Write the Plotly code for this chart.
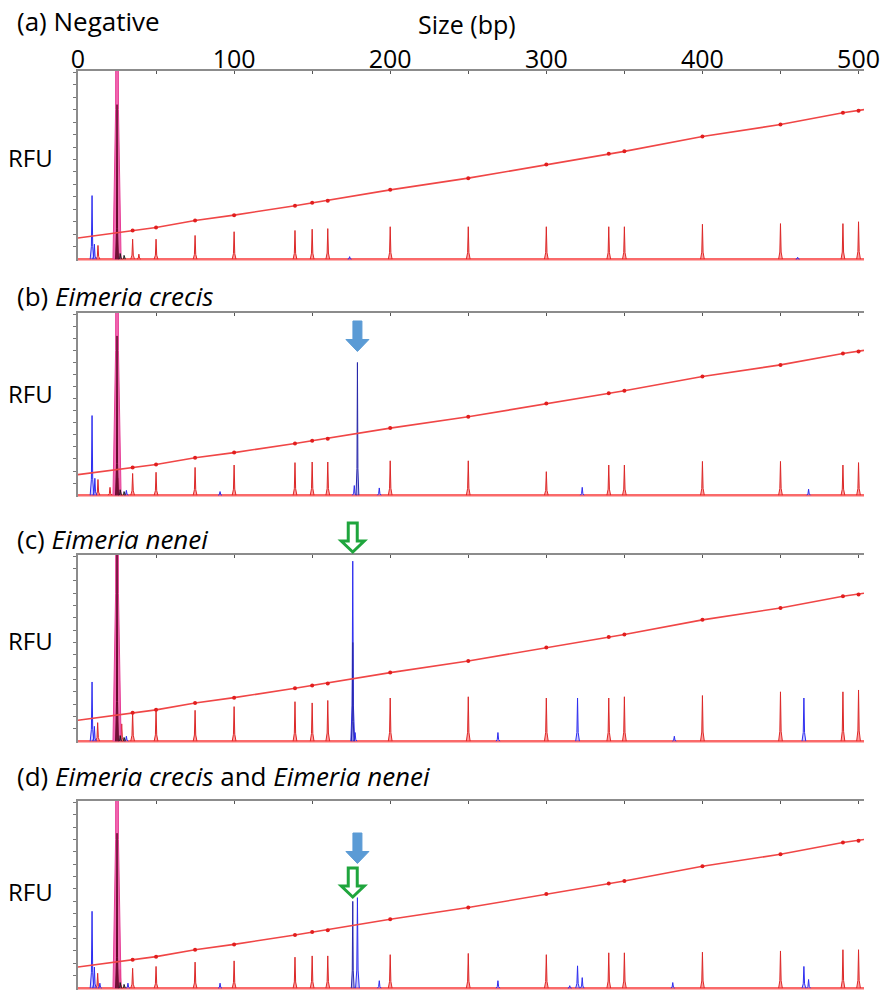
import plotly.graph_objects as go

W, H = 887, 998

# ---------------- data ----------------
STD_SIZES = [35, 50, 75, 100, 139, 150, 160, 200, 250, 300, 340, 350, 400, 450, 490, 500]
STD_HEIGHT_A = [1.6, 1.6, 1.9, 2.2, 2.3, 2.4, 2.45, 2.6, 2.6, 2.6, 2.6, 2.6, 2.8, 2.85, 2.85, 3.0]
STD_HEIGHT_B = [1.8, 1.9, 2.3, 2.5, 2.7, 2.75, 2.75, 2.85, 2.85, 1.95, 2.5, 2.5, 2.8, 2.8, 2.5, 2.7]
STD_HEIGHT_C = [2.4, 2.55, 2.5, 2.8, 3.2, 3.1, 3.3, 3.5, 3.6, 3.5, 3.5, 3.6, 3.7, 4.0, 4.0, 4.15]
STD_HEIGHT_D = [1.6, 1.75, 2.1, 2.2, 2.5, 2.6, 2.6, 2.7, 2.8, 2.7, 2.85, 2.85, 2.9, 3.0, 3.1, 3.1]

SIZING_X = [0] + STD_SIZES + [503.5]
SIZING_Y = [1.7, 2.3, 2.54, 3.1, 3.53, 4.29, 4.52, 4.68, 5.56, 6.5, 7.6, 8.45, 8.65,
            9.84, 10.8, 11.75, 11.9, 12.0]

RED_EXTRA_A = [(12.8, 1.1), (25, 1.5), (39, 0.4)]
RED_EXTRA_B = [(12.8, 1.3), (20.5, 0.65), (26, 1.4)]
RED_EXTRA_C = [(12.6, 1.5), (28, 1.4)]
RED_EXTRA_D = [(12.6, 1.2), (27, 1.5)]

BLUE_A = [(9, 5.1), (10.5, 1.2), (25, 1.5), (174, 0.2), (461, 0.15)]
BLUE_B = [(9, 6.6), (10.8, 1.4), (25, 1.4), (31, 0.4), (91, 0.3), (177, 0.8),
          (193, 0.6), (323, 0.65), (468, 0.5)]
BLUE_C = [(9, 4.8), (10.5, 1.2), (25, 1.6), (31, 0.4), (176, 14.6), (177.5, 0.7),
          (269, 0.7), (320, 3.5), (382, 0.4), (465, 3.5)]
BLUE_D = [(9, 6.2), (10.5, 1.7), (14, 0.4), (25, 1.5), (32, 0.4), (91, 0.4), (179, 7.3),
          (193, 0.6), (269, 0.6), (315, 0.2), (320, 1.8), (323, 0.85), (381, 0.45),
          (465, 1.75), (468, 0.7)]

NAVY_A = []
NAVY_B = [(179, 11.0)]
NAVY_C = [(176, 8.0)]
NAVY_D = [(176, 7.0)]

PINK_ALL = [(25, 60)]
DARK_A = [(25, 12.4)]
DARK_B = [(25, 13.2)]
DARK_C = [(25, 16.0)]
DARK_D = [(25, 12.5)]
BLACK_SMALL = [(27, 0.45), (29.5, 0.3)]

TITLES = ["(a) Negative",
          "(b) <i>Eimeria crecis</i>",
          "(c) <i>Eimeria nenei</i>",
          "(d) <i>Eimeria crecis</i> and <i>Eimeria nenei</i>"]
X_TICKS = [0, 50, 100, 150, 200, 250, 300, 350, 400, 450, 500]
X_TICKTEXT = ["0", "", "100", "", "200", "", "300", "", "400", "", "500"]

# ---------------- layout geometry ----------------
X_RANGE = [0, 503.5]
XDOM_PX = [78, 864]
PANELS_PX = [(71, 261), (313, 497), (555, 743), (801, 990)]   # top, bottom
TITLE_Y_PX = [21, 296, 539, 776]
RFU_Y_PX = [157, 393, 640, 891]
Y_RANGE = [-0.15, 15.1]
FONT = "Open Sans"

def spikes(peaks, hw):
    xs, ys = [], []
    for p, h in peaks:
        xs += [p - hw, p - 0.35 * hw, p, p + 0.35 * hw, p + hw, None]
        ys += [0, 0.2 * h, h, 0.2 * h, 0, None]
    return xs, ys

fig = go.Figure()

panels = [
    (STD_HEIGHT_A, RED_EXTRA_A, BLUE_A, NAVY_A, DARK_A),
    (STD_HEIGHT_B, RED_EXTRA_B, BLUE_B, NAVY_B, DARK_B),
    (STD_HEIGHT_C, RED_EXTRA_C, BLUE_C, NAVY_C, DARK_C),
    (STD_HEIGHT_D, RED_EXTRA_D, BLUE_D, NAVY_D, DARK_D),
]

def add_spikes(peaks, hw, line, fill, xa, ya, width=1):
    if not peaks:
        return
    xs, ys = spikes(peaks, hw)
    fig.add_trace(go.Scatter(x=xs, y=ys, mode="lines", fill="toself",
                             fillcolor=fill, line=dict(color=line, width=width),
                             xaxis=xa, yaxis=ya, hoverinfo="skip", showlegend=False))

for i, (std_h, red_x, blue, navy, dark) in enumerate(panels):
    n = i + 1
    xa, ya = f"x{n}" if n > 1 else "x", f"y{n}" if n > 1 else "y"
    # baseline
    fig.add_trace(go.Scatter(x=X_RANGE, y=[0, 0], mode="lines",
                             line=dict(color="rgba(250,90,90,0.9)", width=2.5),
                             xaxis=xa, yaxis=ya, hoverinfo="skip", showlegend=False))
    # size standard peaks
    add_spikes(list(zip(STD_SIZES, std_h)) + red_x, 1.2,
               "rgb(220,40,40)", "rgba(255,70,70,0.5)", xa, ya)
    add_spikes(blue, 1.2, "rgb(45,45,240)", "rgba(110,110,255,0.35)", xa, ya)
    add_spikes(navy, 0.9, "rgb(40,40,170)", "rgba(80,80,220,0.45)", xa, ya)
    add_spikes(PINK_ALL, 2.6, "rgb(230,60,150)", "rgba(240,80,165,0.85)", xa, ya)
    add_spikes(dark, 0.9, "rgb(95,10,40)", "rgba(110,10,45,0.9)", xa, ya)
    add_spikes(BLACK_SMALL, 0.8, "rgb(30,30,30)", "rgba(30,30,30,0.3)", xa, ya)
    # sizing curve
    fig.add_trace(go.Scatter(x=SIZING_X, y=SIZING_Y, mode="lines",
                             line=dict(color="rgb(240,70,70)", width=1.6),
                             xaxis=xa, yaxis=ya, hoverinfo="skip", showlegend=False))
    fig.add_trace(go.Scatter(x=STD_SIZES, y=SIZING_Y[1:-1], mode="markers",
                             marker=dict(color="rgb(225,30,30)", size=4),
                             xaxis=xa, yaxis=ya, hoverinfo="skip", showlegend=False))

layout = dict(width=W, height=H, margin=dict(l=0, r=0, t=0, b=0),
              paper_bgcolor="white", plot_bgcolor="white", showlegend=False,
              font=dict(family=FONT, color="black"))

for i, (top, bot) in enumerate(PANELS_PX):
    n = i + 1
    sfx = str(n) if n > 1 else ""
    layout["xaxis" + sfx] = dict(
        domain=[XDOM_PX[0] / W, XDOM_PX[1] / W], range=X_RANGE,
        anchor="y" + sfx, side="top", showline=True, linecolor="#8c8c8c", linewidth=2,
        ticks="inside", ticklen=3, tickcolor="#555", tickwidth=1,
        tickvals=X_TICKS, ticktext=X_TICKTEXT, showticklabels=(n == 1),
        ticklabelstandoff=-9,
        tickfont=dict(size=25, family=FONT, color="black"),
        showgrid=False, zeroline=False, fixedrange=True, automargin=False)
    layout["yaxis" + sfx] = dict(
        domain=[1 - bot / H, 1 - top / H], range=Y_RANGE,
        anchor="x" + sfx, showline=True, linecolor="#8c8c8c", linewidth=1.5,
        ticks="outside", ticklen=3, tickcolor="#777", tickvals=list(range(1, 16)),
        showticklabels=False, showgrid=False, zeroline=False, fixedrange=True,
        automargin=False)

fig.update_layout(**layout)

ann = [dict(text="Size (bp)", x=467 / W, y=1 - 24 / H, xref="paper", yref="paper",
            xanchor="center", yanchor="middle", showarrow=False,
            font=dict(size=25, family=FONT, color="black"))]
for i in range(4):
    ann.append(dict(text=TITLES[i], x=15 / W, y=1 - TITLE_Y_PX[i] / H, xref="paper",
                    yref="paper", xanchor="left", yanchor="middle", showarrow=False,
                    font=dict(size=26, family=FONT, color="black")))
    ann.append(dict(text="RFU", x=6 / W, y=1 - RFU_Y_PX[i] / H, xref="paper",
                    yref="paper", xanchor="left", yanchor="middle", showarrow=False,
                    font=dict(size=24, family=FONT, color="black")))
fig.update_layout(annotations=ann)

# ---------------- arrows (annotations) ----------------
def bp_to_px(bp):
    return XDOM_PX[0] + bp * (XDOM_PX[1] - XDOM_PX[0]) / X_RANGE[1]

def arrow_path(cx, top, shaft_len, tip_len, shaft_hw, head_hw):
    pts = [(cx - shaft_hw, top), (cx + shaft_hw, top), (cx + shaft_hw, top + shaft_len),
           (cx + head_hw, top + shaft_len), (cx, top + shaft_len + tip_len),
           (cx - head_hw, top + shaft_len), (cx - shaft_hw, top + shaft_len)]
    s = "M " + " L ".join(f"{x / W:.5f},{1 - y / H:.5f}" for x, y in pts) + " Z"
    return s

shapes = []
# filled blue arrows (E. crecis peak)
for top in (321, 833):
    shapes.append(dict(type="path", xref="paper", yref="paper",
                       path=arrow_path(bp_to_px(179), top, 18.5, 12, 4.5, 11.5),
                       fillcolor="#5b9bd5", line=dict(color="#5b9bd5", width=1)))
# green outline arrows (E. nenei peak)
for top in (523, 868):
    shapes.append(dict(type="path", xref="paper", yref="paper",
                       path=arrow_path(bp_to_px(176), top, 18, 11, 4.5, 11.5),
                       fillcolor="white", line=dict(color="#1fa53d", width=3)))
fig.update_layout(shapes=shapes)

fig.write_html("out.html", config={"displayModeBar": False},
               post_script="document.body.style.margin='0px';document.body.style.overflow='hidden';")
